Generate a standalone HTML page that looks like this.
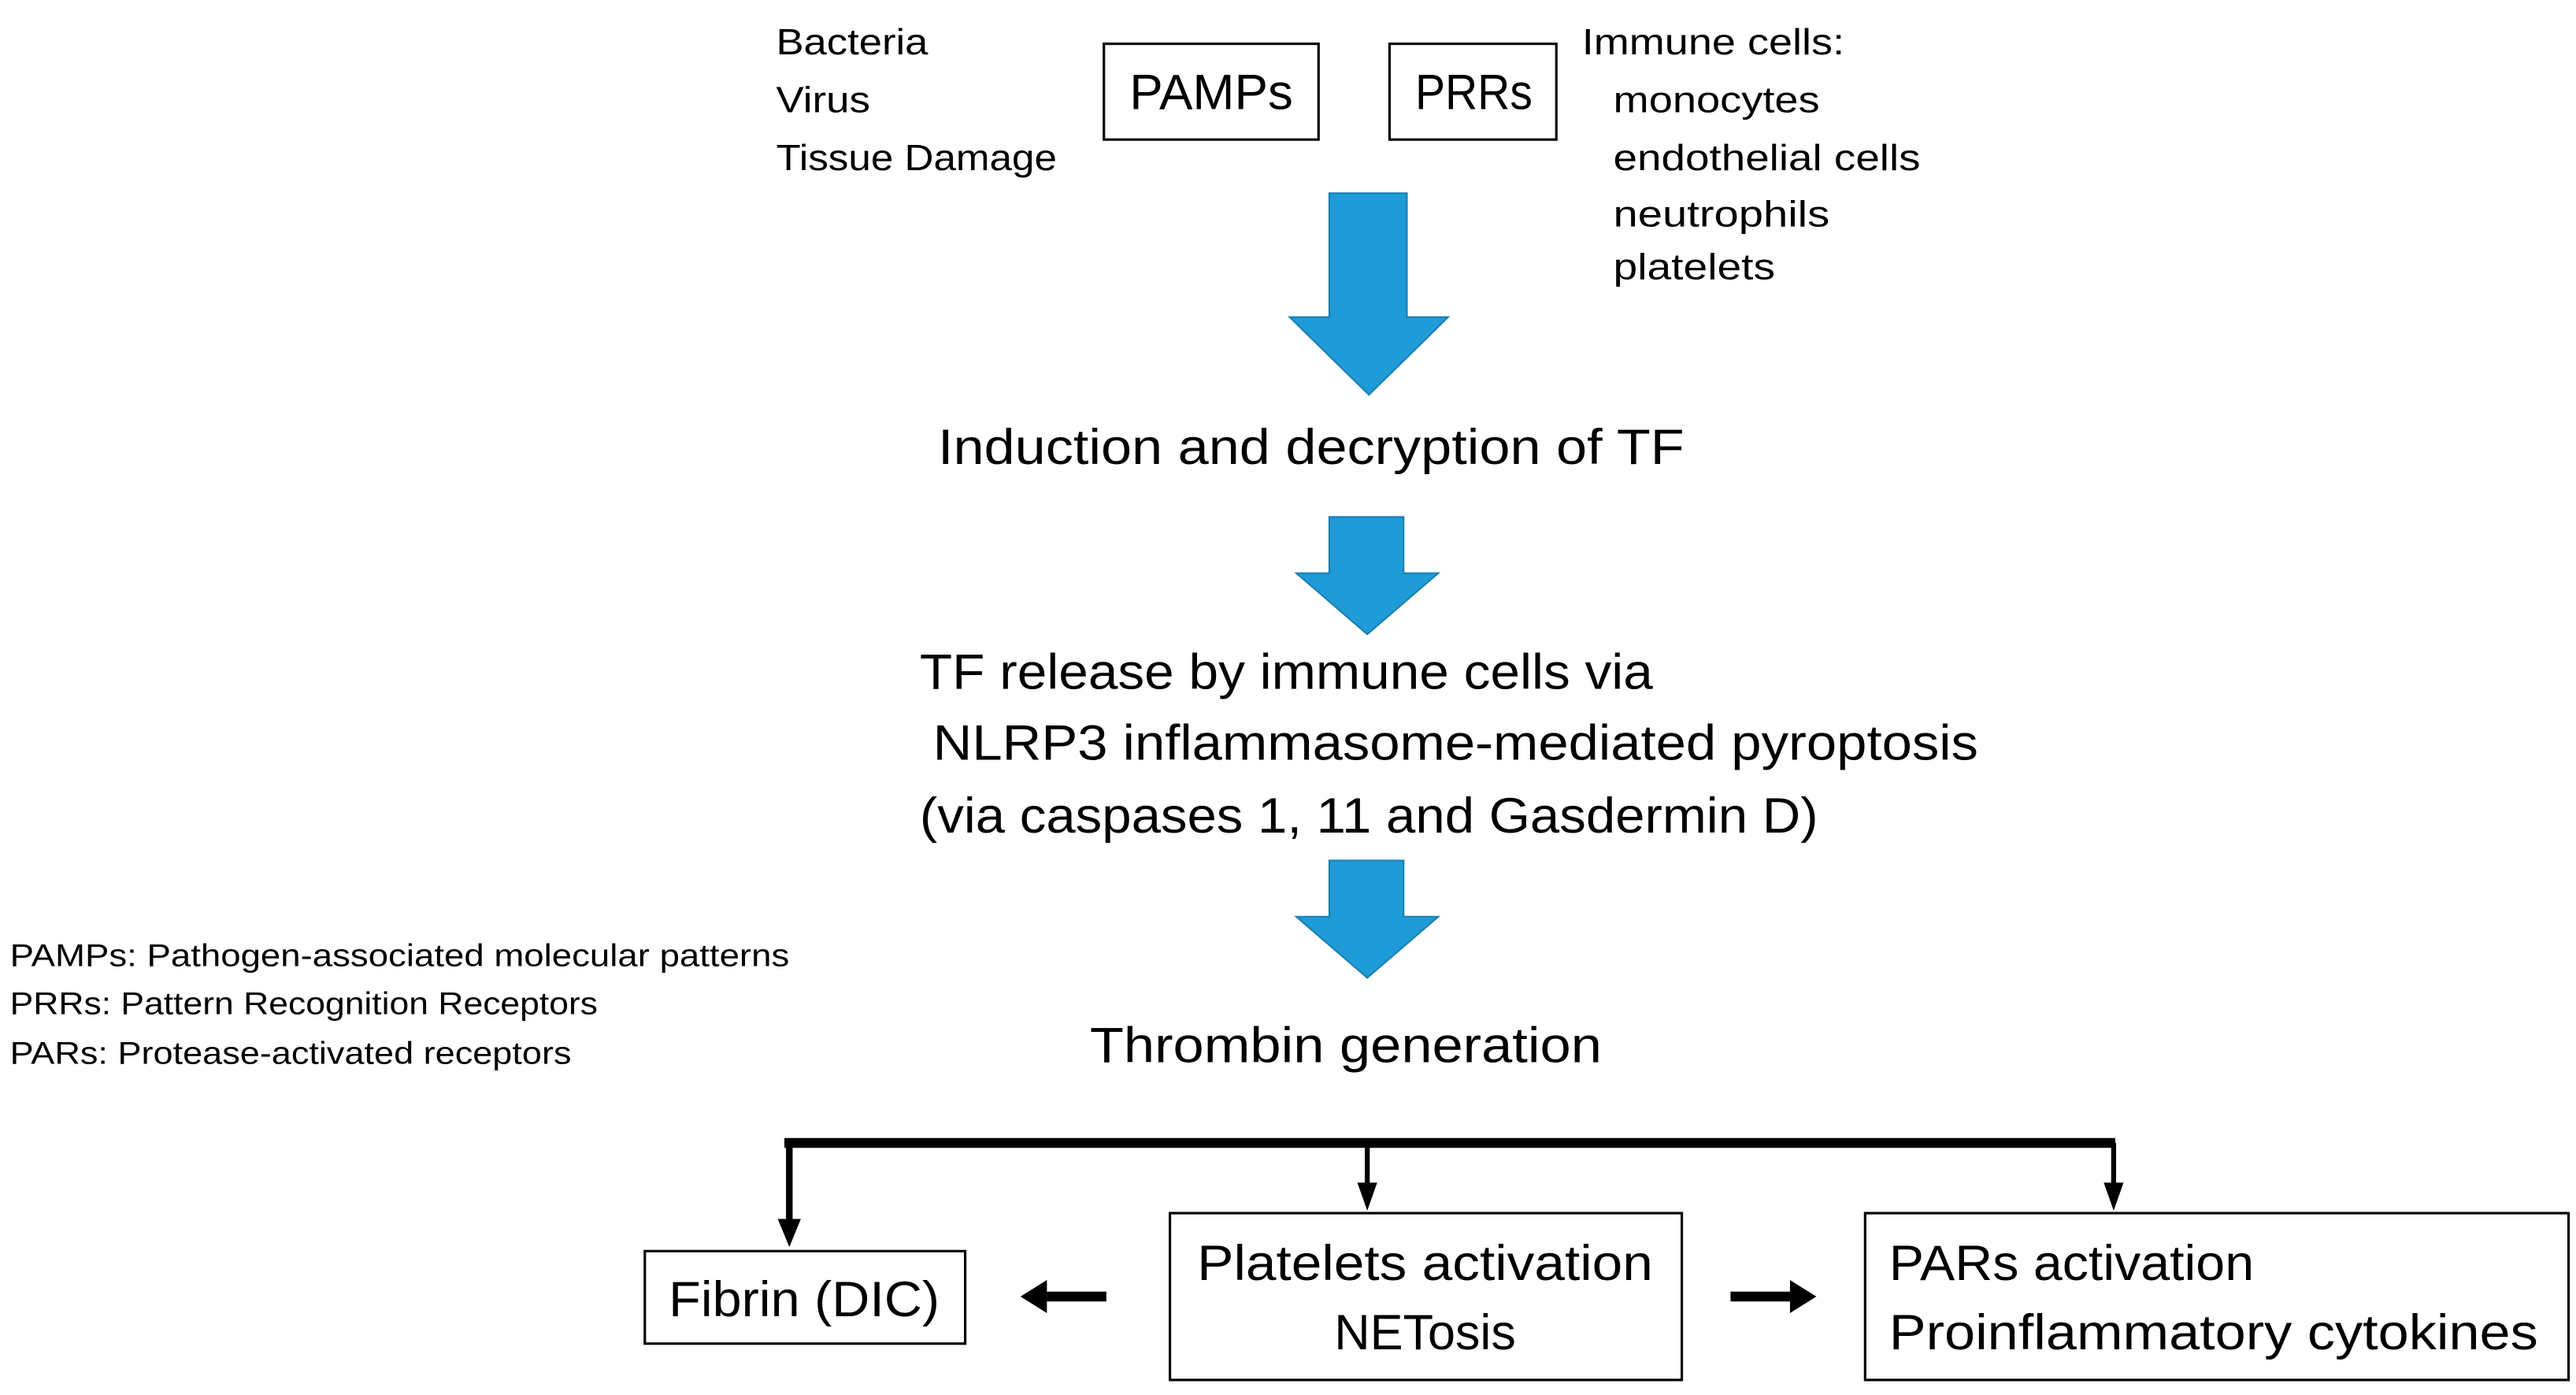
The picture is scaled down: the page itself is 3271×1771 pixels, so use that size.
<!DOCTYPE html>
<html><head><meta charset="utf-8"><style>
html,body{margin:0;padding:0;background:#fff;}
svg{display:block;}
text{font-family:"Liberation Sans",sans-serif;fill:#000;}
</style></head><body>
<svg width="3271" height="1771" viewBox="0 0 1560 844.6" xmlns="http://www.w3.org/2000/svg">
<rect width="1560" height="844.6" fill="#fff"/>
<g font-size="22">
<text x="470" y="33" textLength="92" lengthAdjust="spacingAndGlyphs">Bacteria</text>
<text x="470" y="68" textLength="57" lengthAdjust="spacingAndGlyphs">Virus</text>
<text x="470" y="103" textLength="170" lengthAdjust="spacingAndGlyphs">Tissue Damage</text>
<text x="958" y="33" textLength="159" lengthAdjust="spacingAndGlyphs">Immune cells:</text>
<text x="977" y="68" textLength="125" lengthAdjust="spacingAndGlyphs">monocytes</text>
<text x="977" y="103" textLength="186" lengthAdjust="spacingAndGlyphs">endothelial cells</text>
<text x="977" y="137" textLength="131" lengthAdjust="spacingAndGlyphs">neutrophils</text>
<text x="977" y="169" textLength="98" lengthAdjust="spacingAndGlyphs">platelets</text>
</g>
<g fill="none" stroke="#000" stroke-width="1.5">
<rect x="668.5" y="26.5" width="130" height="58"/>
<rect x="841.5" y="26.5" width="101" height="58"/>
<rect x="390.5" y="757.5" width="194" height="56"/>
<rect x="708.5" y="734.5" width="310" height="101"/>
<rect x="1129.5" y="734.5" width="426" height="101"/>
</g>
<g font-size="30">
<text x="684" y="66" textLength="99" lengthAdjust="spacingAndGlyphs">PAMPs</text>
<text x="857" y="66" textLength="71" lengthAdjust="spacingAndGlyphs">PRRs</text>
<text x="568" y="281" textLength="452" lengthAdjust="spacingAndGlyphs">Induction and decryption of TF</text>
<text x="557" y="417" textLength="444" lengthAdjust="spacingAndGlyphs">TF release by immune cells via</text>
<text x="565" y="460" textLength="633" lengthAdjust="spacingAndGlyphs">NLRP3 inflammasome-mediated pyroptosis</text>
<text x="557" y="504" textLength="544" lengthAdjust="spacingAndGlyphs">(via caspases 1, 11 and Gasdermin D)</text>
<text x="660" y="643" textLength="310" lengthAdjust="spacingAndGlyphs">Thrombin generation</text>
<text x="405" y="797" textLength="164" lengthAdjust="spacingAndGlyphs">Fibrin (DIC)</text>
<text x="725" y="775" textLength="276" lengthAdjust="spacingAndGlyphs">Platelets activation</text>
<text x="808" y="817" textLength="110" lengthAdjust="spacingAndGlyphs">NETosis</text>
<text x="1144" y="775" textLength="221" lengthAdjust="spacingAndGlyphs">PARs activation</text>
<text x="1144" y="817" textLength="393" lengthAdjust="spacingAndGlyphs">Proinflammatory cytokines</text>
</g>
<g font-size="19">
<text x="6" y="585" textLength="472" lengthAdjust="spacingAndGlyphs">PAMPs: Pathogen-associated molecular patterns</text>
<text x="6" y="614" textLength="356" lengthAdjust="spacingAndGlyphs">PRRs: Pattern Recognition Receptors</text>
<text x="6" y="644" textLength="340" lengthAdjust="spacingAndGlyphs">PARs: Protease-activated receptors</text>
</g>
<g fill="#1f9bd7" stroke="#1a7fb3" stroke-width="1">
<polygon points="805,117 852,117 852,192 877,192 829,239 781,192 805,192"/>
<polygon points="805,313 850,313 850,347 871,347 828,384 785,347 805,347"/>
<polygon points="805,521 850,521 850,555 871,555 828,592 785,555 805,555"/>
</g>
<g stroke="#000" fill="none">
<line x1="475" y1="692" x2="1281" y2="692" stroke-width="6"/>
<line x1="478" y1="692" x2="478" y2="740" stroke-width="4"/>
<line x1="828" y1="692" x2="828" y2="720" stroke-width="3"/>
<line x1="1280" y1="692" x2="1280" y2="720" stroke-width="3"/>
<line x1="634" y1="785" x2="670" y2="785" stroke-width="6"/>
<line x1="1048" y1="785" x2="1085" y2="785" stroke-width="6"/>
</g>
<g fill="#000">
<polygon points="471,738 485,738 478,755"/>
<polygon points="822,716 834,716 828,733"/>
<polygon points="1274,716 1286,716 1280,733"/>
<polygon points="634,775 634,795 618,785"/>
<polygon points="1084,775 1084,795 1100,785"/>
</g>
</svg>
</body></html>
